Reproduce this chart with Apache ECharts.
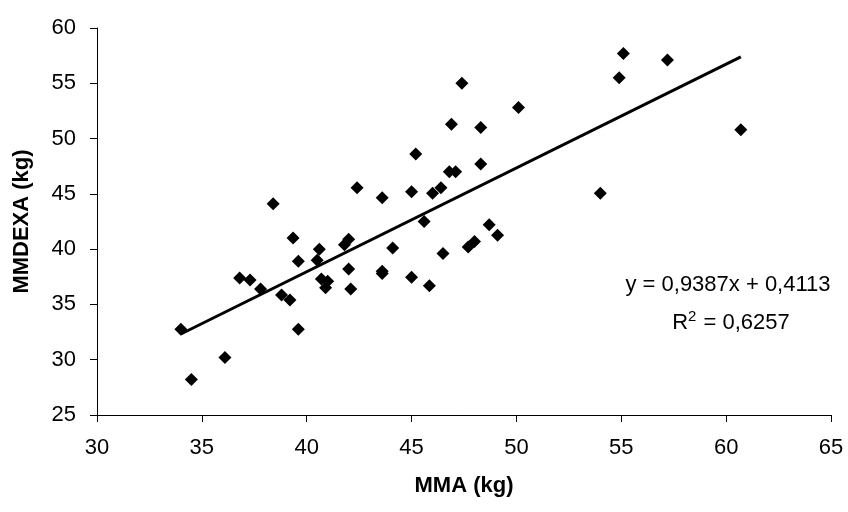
<!DOCTYPE html>
<html>
<head>
<meta charset="utf-8">
<title>MMA vs MMDEXA</title>
<style>
html, body { margin:0; padding:0; width:100%; height:100%; background:#fff; }
#main { width:848px; height:512px; }
</style>
</head>
<body>
<div id="main"></div>
<script src="https://cdn.jsdelivr.net/npm/echarts@6/dist/echarts.min.js"></script>
<script type="text/javascript">
// MMA (kg) of each subject
var mmaValues = [
    47.4, 46.9, 48.3, 45.2, 46.8, 47.1, 48.3, 42.4, 43.6, 45.0,
    46.0, 46.4, 38.4, 55.1, 57.2, 54.9, 50.1, 60.7, 54.0, 45.6,
    39.35, 40.6, 42.0, 41.8, 44.1, 48.0, 47.7, 46.5, 39.6, 40.5,
    42.0, 43.6, 43.6, 36.8, 37.3, 40.7, 41.0, 40.9, 45.0, 45.85,
    42.1, 37.8, 38.8, 39.2, 34.0, 39.6, 36.1, 34.5, 48.7, 49.1
];
// MMDEXA (kg), same order
var mmdexaValues = [
    55.0, 51.3, 51.0, 48.6, 47.0, 47.0, 47.7, 45.55, 44.65, 45.2,
    45.05, 45.55, 44.1, 57.7, 57.1, 55.5, 52.8, 50.8, 45.05, 42.5,
    41.0, 40.0, 40.9, 40.4, 40.1, 40.7, 40.2, 39.6, 38.9, 39.0,
    38.2, 38.0, 37.8, 37.4, 37.2, 37.3, 37.1, 36.5, 37.45, 36.7,
    36.4, 36.4, 35.85, 35.4, 32.75, 32.75, 30.2, 28.2, 42.2, 41.25
];
// trendline as printed on the chart
var slope = 0.9387;
var intercept = 0.4113;
var xTicks = [30, 35, 40, 45, 50, 55, 60, 65];
var yTicks = [25, 30, 35, 40, 45, 50, 55, 60];

var points = [];
for (var i = 0; i < mmaValues.length; i++) {
    points.push([mmaValues[i], mmdexaValues[i]]);
}
var xMin = Math.min.apply(null, mmaValues);
var xMax = Math.max.apply(null, mmaValues);
var trend = [
    [xMin, slope * xMin + intercept],
    [xMax, slope * xMax + intercept]
];

var font = 'Liberation Sans, Arial, sans-serif';
var myChart = echarts.init(document.getElementById('main'));
var options = {
    backgroundColor: '#fff',
    animation: false,
    grid: { left: 97, right: 17, top: 28, bottom: 97 },
    xAxis: {
        type: 'value',
        min: xTicks[0],
        max: xTicks[xTicks.length - 1],
        interval: 5,
        name: 'MMA (kg)',
        nameLocation: 'middle',
        nameGap: 60,
        nameTextStyle: { color: '#000', fontFamily: font, fontSize: 22, fontWeight: 'bold' },
        axisLine: { lineStyle: { color: '#000', width: 1 } },
        axisTick: { show: true, length: 7, lineStyle: { color: '#000' } },
        axisLabel: { color: '#000', fontFamily: font, fontSize: 22, margin: 22 },
        splitLine: { show: false }
    },
    yAxis: {
        type: 'value',
        min: yTicks[0],
        max: yTicks[yTicks.length - 1],
        interval: 5,
        name: 'MMDEXA (kg)',
        nameLocation: 'middle',
        nameGap: 64,
        nameTextStyle: { color: '#000', fontFamily: font, fontSize: 22, fontWeight: 'bold' },
        axisLine: { show: true, lineStyle: { color: '#000', width: 1 } },
        axisTick: { show: true, length: 7, lineStyle: { color: '#000' } },
        axisLabel: { color: '#000', fontFamily: font, fontSize: 22, margin: 21 },
        splitLine: { show: false }
    },
    graphic: [
        {
            type: 'text',
            x: 728,
            y: 285,
            style: {
                text: 'y = 0,9387x + 0,4113',
                fill: '#000',
                font: '22px ' + font,
                align: 'center',
                verticalAlign: 'middle'
            }
        },
        {
            type: 'text',
            x: 731,
            y: 323,
            style: {
                text: 'R{sup|2} = 0,6257',
                fill: '#000',
                font: '22px ' + font,
                align: 'center',
                verticalAlign: 'middle',
                rich: {
                    sup: { fontSize: 15, fontFamily: font, fill: '#000', padding: [0, 1, 12, 0] }
                }
            }
        }
    ],
    series: [
        {
            type: 'scatter',
            symbol: 'diamond',
            symbolSize: 13,
            itemStyle: { color: '#000', opacity: 1 },
            data: points
        },
        {
            type: 'line',
            showSymbol: false,
            symbol: 'none',
            lineStyle: { color: '#000', width: 3 },
            data: trend
        }
    ]
};
myChart.setOption(options);
</script>
</body>
</html>
